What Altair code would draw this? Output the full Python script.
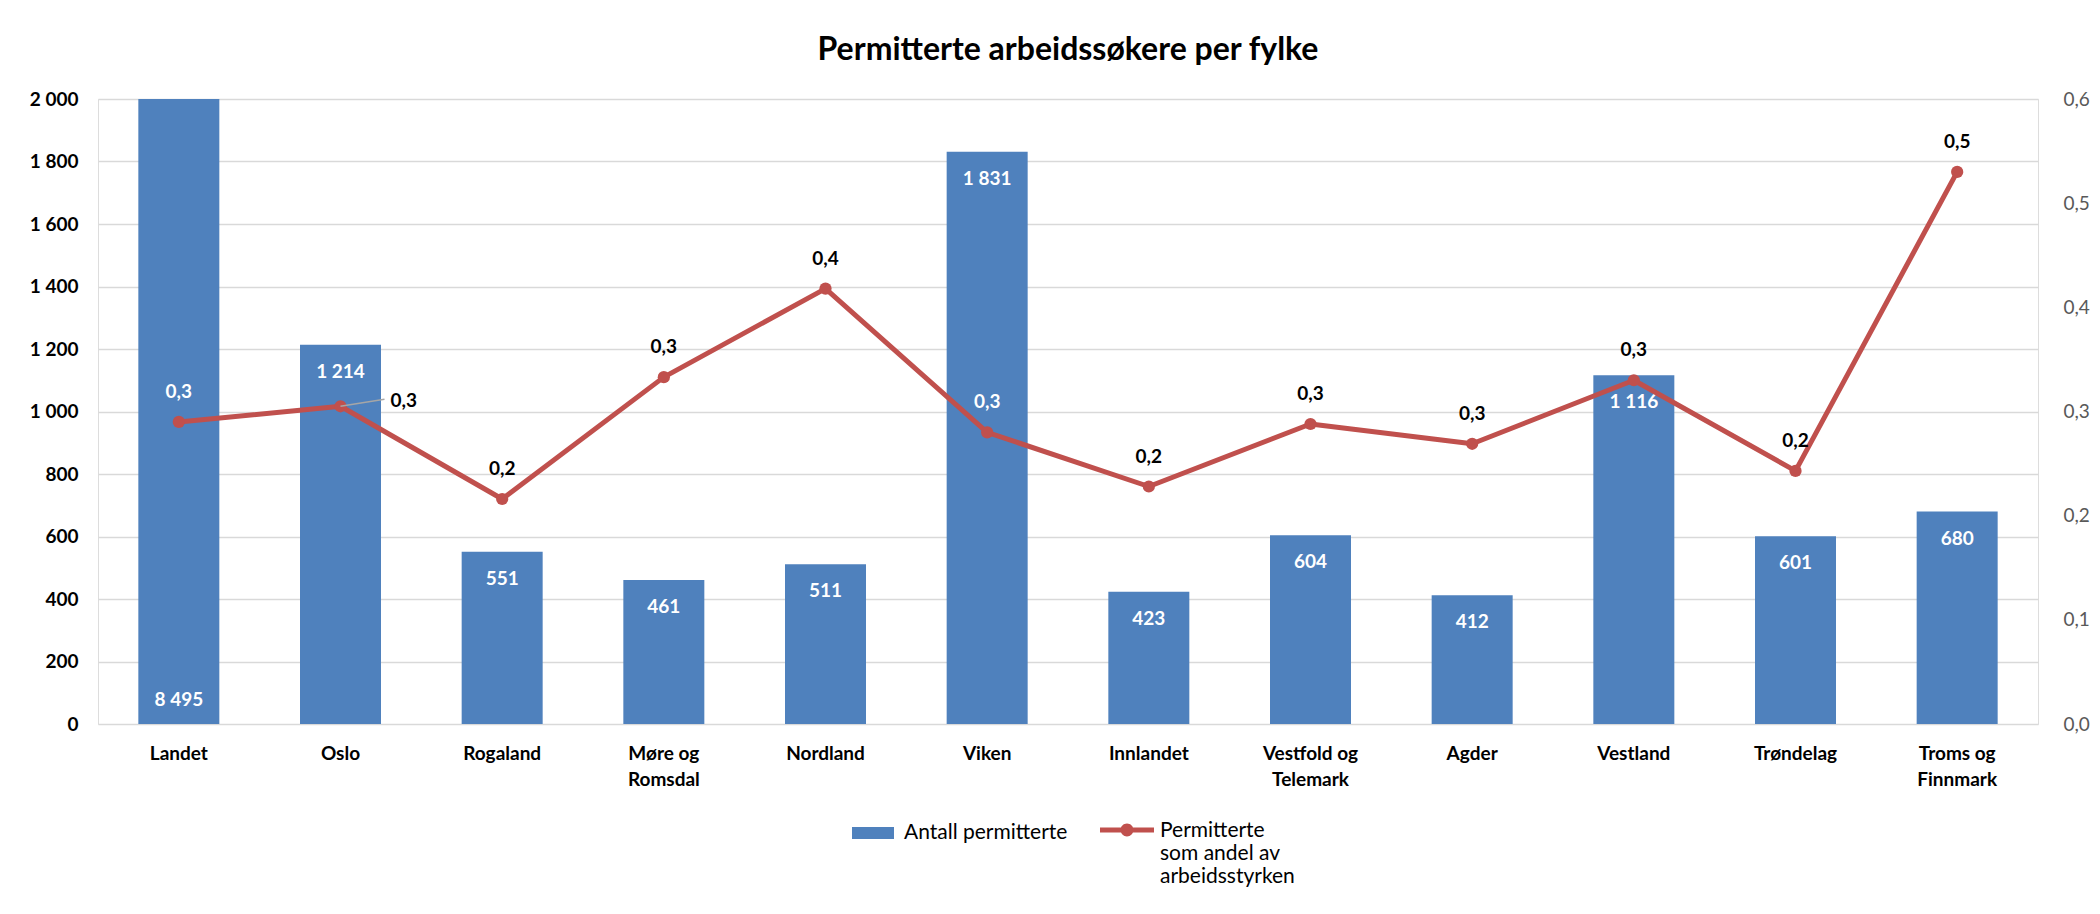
import altair as alt
import pandas as pd

categories = ["Landet", "Oslo", "Rogaland", "Møre og Romsdal", "Nordland", "Viken",
              "Innlandet", "Vestfold og Telemark", "Agder", "Vestland", "Trøndelag",
              "Troms og Finnmark"]
antall = [8495, 1214, 551, 461, 511, 1831, 423, 604, 412, 1116, 601, 680]
andel = [0.29, 0.305, 0.216, 0.333, 0.418, 0.28, 0.228, 0.288, 0.269, 0.33, 0.243, 0.53]

left_ticks = [0, 200, 400, 600, 800, 1000, 1200, 1400, 1600, 1800, 2000]
right_ticks = [0.0, 0.1, 0.2, 0.3, 0.4, 0.5, 0.6]
bar_series = "Antall permitterte"
line_series_lines = ["Permitterte", "som andel av", "arbeidsstyrken"]
line_series = " ".join(line_series_lines)
title_text = "Permitterte arbeidssøkere per fylke"

BLUE = "#4F81BD"
RED = "#C0504D"
FONT = "Lato"
FS = 19
LEG_FS = 21

df = pd.DataFrame({
    "kategori": categories,
    "antall": antall,
    "andel": andel,
})
df["antall_txt"] = [f"{v:,}".replace(",", "\u00a0") for v in antall]
df["andel_txt"] = [f"{v:.1f}".replace(".", ",") for v in andel]
df["serie_bar"] = bar_series
df["serie_line"] = line_series

base = alt.Chart(df)

x_enc = alt.X(
    "kategori:N", sort=categories,
    scale=alt.Scale(paddingInner=0.5, paddingOuter=0.25),
    axis=alt.Axis(
        title=None, domain=False, ticks=False, labelAngle=0,
        labelFont=FONT, labelFontSize=FS, labelFontWeight="bold", labelColor="#000000",
        labelPadding=20, labelLineHeight=26, labelBaseline="top",
        labelExpr="indexof(datum.label, ' og ') > 0 ? [substring(datum.label, 0, indexof(datum.label, ' og ') + 3), substring(datum.label, indexof(datum.label, ' og ') + 4)] : datum.label",
    ),
)

ymax = max(left_ticks)
y_bar_scale = alt.Scale(domain=[0, ymax], clamp=True, nice=False, zero=True)

bars = base.mark_bar(size=81).encode(
    x=x_enc,
    y=alt.Y("antall:Q", scale=y_bar_scale,
            axis=alt.Axis(title=None, values=left_ticks, domain=False, ticks=False,
                          grid=True, gridColor="#D9D9D9", gridWidth=1.5,
                          labelFont=FONT, labelFontSize=FS, labelFontWeight="bold",
                          labelColor="#000000", labelPadding=20,
                          labelExpr="replace(format(datum.value, ','), ',', '\u00a0')")),
    fill=alt.Fill("serie_bar:N", scale=alt.Scale(domain=[bar_series], range=[BLUE]),
                  legend=alt.Legend(orient="none", legendX=754, legendY=713, title=None,
                                    padding=0, symbolType="M-1,-0.29H1V0.29H-1Z",
                                    symbolSize=1764, symbolStrokeWidth=0,
                                    labelFont=FONT, labelFontSize=LEG_FS, labelColor="#000000",
                                    labelOffset=10, labelLimit=400)),
)

bar_labels = base.mark_text(font=FONT, fontSize=FS, fontWeight="bold", color="#FFFFFF",
                            baseline="middle", dy=27).encode(
    x=alt.X("kategori:N", sort=categories),
    y=alt.Y("antall:Q", scale=y_bar_scale),
    text="antall_txt:N",
).transform_filter(alt.datum.antall <= ymax)

bar_labels_clipped = base.mark_text(font=FONT, fontSize=FS, fontWeight="bold", color="#FFFFFF",
                                    baseline="middle", dy=-24).encode(
    x=alt.X("kategori:N", sort=categories),
    y=alt.Y("zero:Q", scale=y_bar_scale),
    text="antall_txt:N",
).transform_filter(alt.datum.antall > ymax).transform_calculate(zero="0")

y_line_scale = alt.Scale(domain=[0, max(right_ticks)], nice=False, zero=True)

line = base.mark_line(strokeWidth=5, strokeJoin="round").encode(
    x=alt.X("kategori:N", sort=categories),
    y=alt.Y("andel:Q", scale=y_line_scale,
            axis=alt.Axis(title=None, orient="right", values=right_ticks, domain=False,
                          ticks=False, grid=False, labelFont=FONT, labelFontSize=FS,
                          labelColor="#595959", labelPadding=25,
                          labelExpr="replace(format(datum.value, '.1f'), '.', ',')")),
    stroke=alt.Stroke("serie_line:N", scale=alt.Scale(domain=[line_series], range=[RED]),
                      legend=alt.Legend(orient="none", legendX=1002, legendY=694, title=None,
                                        padding=0,
                                        symbolType="M-1,0.28H1V0.46H-1Z M-0.24,0.37A0.24,0.24 0 1,1 0.24,0.37A0.24,0.24 0 1,1 -0.24,0.37Z",
                                        symbolSize=2916, symbolStrokeWidth=0,
                                        symbolFillColor=RED,
                                        labelFont=FONT, labelFontSize=LEG_FS, labelColor="#000000",
                                        labelOffset=6, labelBaseline="top", labelLimit=400,
                                        labelExpr=str(line_series_lines).replace('"', "'"))),
)

points = base.mark_point(filled=True, size=150, color=RED, opacity=1).encode(
    x=alt.X("kategori:N", sort=categories),
    y=alt.Y("andel:Q", scale=y_line_scale),
)

on_bar = ["Landet", "Viken"]
line_labels = base.mark_text(font=FONT, fontSize=FS, fontWeight="bold",
                             baseline="middle", dy=-30).encode(
    x=alt.X("kategori:N", sort=categories),
    y=alt.Y("andel:Q", scale=y_line_scale),
    text="andel_txt:N",
    color=alt.condition(alt.FieldOneOfPredicate(field="kategori", oneOf=on_bar),
                        alt.value("#FFFFFF"), alt.value("#000000")),
).transform_filter(alt.datum.kategori != "Oslo")

oslo_leader = base.mark_rule(color="#A6A6A6", strokeWidth=1.5, x2Offset=44, y2Offset=-7).encode(
    x=alt.X("kategori:N", sort=categories),
    x2="kategori:N",
    y=alt.Y("andel:Q", scale=y_line_scale),
    y2="andel:Q",
).transform_filter(alt.datum.kategori == "Oslo")

oslo_label = base.mark_text(font=FONT, fontSize=FS, fontWeight="bold", color="#000000",
                            baseline="middle", align="left", dx=50, dy=-5).encode(
    x=alt.X("kategori:N", sort=categories),
    y=alt.Y("andel:Q", scale=y_line_scale),
    text="andel_txt:N",
).transform_filter(alt.datum.kategori == "Oslo")

left_layer = alt.layer(bars, bar_labels, bar_labels_clipped)
right_layer = alt.layer(line, points, oslo_leader, line_labels, oslo_label)

chart = alt.layer(left_layer, right_layer).resolve_scale(
    y="independent", fill="independent", stroke="independent", color="independent"
).properties(
    width=1940, height=625,
    title=alt.TitleParams(title_text, font=FONT, fontSize=32, fontWeight="bold",
                          color="#000000", anchor="middle", offset=23),
    padding={"left": 90, "top": 91, "right": 54, "bottom": 170},
    autosize=alt.AutoSizeParams(type="none"),
).configure_view(stroke=None).configure(background="#FFFFFF")

chart.save("out.html", embed_options={"renderer": "svg", "actions": False})
